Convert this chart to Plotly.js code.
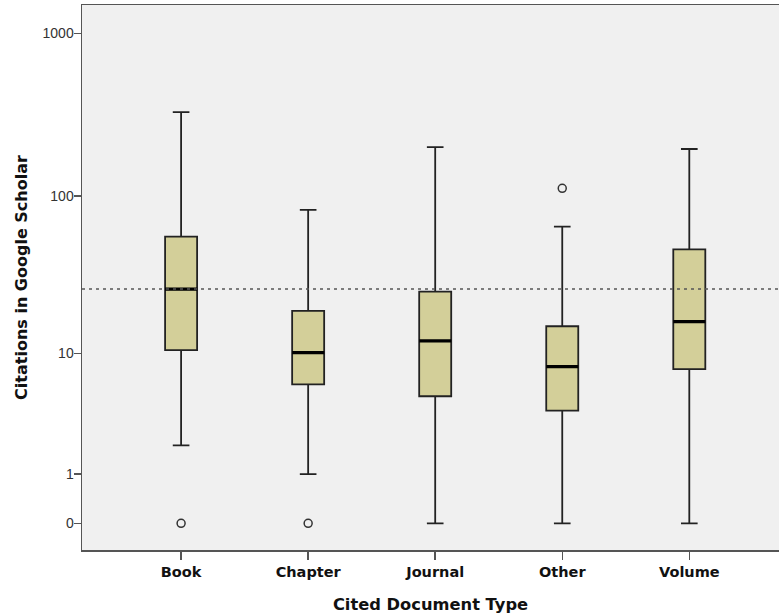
<!DOCTYPE html>
<html>
<head>
<meta charset="utf-8">
<script src="https://cdn.plot.ly/plotly-3.0.1.min.js"></script>
<style>html,body{margin:0;padding:0;background:#fff;}#chart{width:779px;height:616px;}</style>
</head>
<body>
<div id="chart"></div>
<script>
// Data (raw citation counts)
const categories = ["Book", "Chapter", "Journal", "Other", "Volume"];
const lowerWhisker = [2, 1, 0, 0, 0];
const q1Values = [10.5, 6.1, 5.0, 3.9, 7.8];
const medianValues = [26.2, 10.1, 12.1, 8.1, 16.2];
const q3Values = [55.9, 19.0, 25.2, 15.1, 46.6];
const upperWhisker = [329, 82, 200, 64.5, 195];
const outlierCategories = ["Book", "Chapter", "Other"];
const outlierValues = [0, 0, 111.6];
const referenceValue = 26.2;
const yTickValues = [0, 1, 10, 100, 1000];
const yTickLabels = ["0", "1", "10", "100", "1000"];

// axis scale: log10(count + 1)
const tf = v => Math.log10(v + 1);

const font = "Liberation Sans, Arial, sans-serif";
const boldFont = "DejaVu Sans, Verdana, sans-serif";

const boxTrace = {
  type: "box",
  x: categories,
  q1: q1Values.map(tf),
  median: medianValues.map(tf),
  q3: q3Values.map(tf),
  lowerfence: lowerWhisker.map(tf),
  upperfence: upperWhisker.map(tf),
  width: 0.252,
  whiskerwidth: 0.52,
  fillcolor: "#d3cf99",
  line: {color: "#222222", width: 1.8},
  boxpoints: false,
  hoverinfo: "skip",
  showlegend: false
};

const medianTrace = {
  type: "box",
  x: categories,
  q1: medianValues.map(tf),
  median: medianValues.map(tf),
  q3: medianValues.map(tf),
  lowerfence: medianValues.map(tf),
  upperfence: medianValues.map(tf),
  width: 0.252,
  whiskerwidth: 0,
  fillcolor: "rgba(0,0,0,0)",
  line: {color: "#000000", width: 3.2},
  boxpoints: false,
  hoverinfo: "skip",
  showlegend: false
};

const outlierTrace = {
  type: "scatter",
  mode: "markers",
  x: outlierCategories,
  y: outlierValues.map(tf),
  marker: {symbol: "circle-open", size: 8, color: "#333333", line: {width: 1.5, color: "#333333"}},
  hoverinfo: "skip",
  showlegend: false
};

const layout = {
  width: 779,
  height: 616,
  margin: {l: 82, r: 0, t: 5, b: 66},
  paper_bgcolor: "#ffffff",
  plot_bgcolor: "#f0f0f0",
  boxmode: "overlay",
  showlegend: false,
  font: {family: font, color: "#222"},
  xaxis: {
    type: "category",
    categoryorder: "array",
    categoryarray: categories,
    range: [-0.78, 4.706],
    showgrid: false,
    zeroline: false,
    showline: true,
    mirror: true,
    linecolor: "#555555",
    linewidth: 1.5,
    ticks: "outside",
    ticklen: 8,
    tickwidth: 1.5,
    tickcolor: "#555555",
    tickfont: {family: boldFont, size: 14.5, color: "#111", weight: "bold"},
    title: {text: "Cited Document Type", font: {family: boldFont, size: 16.3, color: "#111", weight: "bold"}, standoff: 19},
    automargin: false
  },
  yaxis: {
    range: [-0.1635, 3.174],
    tickmode: "array",
    tickvals: yTickValues.map(tf),
    ticktext: yTickLabels,
    showgrid: false,
    zeroline: false,
    showline: true,
    mirror: false,
    linecolor: "#555555",
    linewidth: 1.5,
    ticks: "outside",
    ticklen: 7,
    tickwidth: 1.5,
    tickcolor: "#555555",
    ticklabelstandoff: -3,
    tickfont: {family: font, size: 14, color: "#333333"},
    title: {text: "Citations in Google Scholar", font: {family: boldFont, size: 16, color: "#111", weight: "bold"}, standoff: 11},
    automargin: false
  },
  shapes: [{
    type: "line",
    xref: "paper", yref: "y",
    x0: 0, x1: 1,
    y0: tf(referenceValue), y1: tf(referenceValue),
    line: {color: "#555555", width: 1.6, dash: "3px,4px"},
    layer: "above"
  }]
};

Plotly.newPlot("chart", [boxTrace, medianTrace, outlierTrace], layout, {displayModeBar: false, staticPlot: true});
</script>
</body>
</html>
